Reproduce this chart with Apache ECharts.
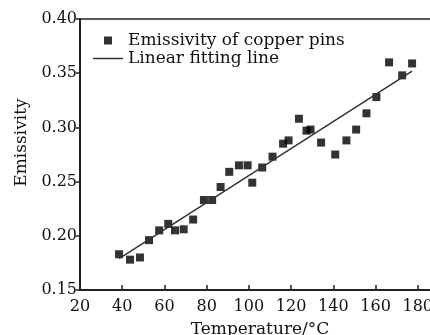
<!DOCTYPE html>
<html>
<head>
    <meta charset="UTF-8">
    <script src="https://cdn.jsdelivr.net/npm/echarts@6/dist/echarts.min.js"></script>
    <title>Emissivity</title>
    <style>
        html, body { margin: 0; padding: 0; background: #fff; }
        #box { width: 430px; height: 335px; }
    </style>
</head>
<body>
    <div id="box"></div>
    <script>
        // measured points: temperature (°C) and emissivity
        var temps = [38.5, 43.7, 48.4, 52.7, 57.5, 61.8, 65, 69.1, 73.6, 78.7, 82.6, 86.6, 90.7, 95.3, 99.4,
            101.6, 106.3, 111.2, 116.2, 118.8, 123.7, 127.3, 129.2, 134.2, 140.9, 146.2, 150.8, 155.7,
            160.4, 166.4, 172.6, 177.3];
        var emissivity = [0.183, 0.178, 0.180, 0.196, 0.205, 0.211, 0.205, 0.206, 0.215, 0.233, 0.233, 0.245,
            0.259, 0.265, 0.265, 0.249, 0.263, 0.273, 0.285, 0.288, 0.308, 0.297, 0.298, 0.286, 0.275,
            0.288, 0.298, 0.313, 0.328, 0.360, 0.348, 0.359];
        // fitted line end points
        var fitTemps = [38.5, 177.3];
        var fitValues = [0.179, 0.352];

        var pts = temps.map(function (t, i) { return [t, emissivity[i]]; });
        var fit = fitTemps.map(function (t, i) { return [t, fitValues[i]]; });

        var serif = 'DejaVu Serif';
        var mychart = echarts.init(document.getElementById('box'));

        var option = {
            animation: false,
            textStyle: { fontFamily: serif },
            grid: {
                left: 80, right: -30, top: 19, bottom: 45,
                outerBoundsMode: 'none',
                show: true, borderColor: '#222', borderWidth: 1.5
            },
            legend: {
                orient: 'vertical',
                left: 88,
                top: 27,
                itemWidth: 30,
                itemHeight: 8,
                itemGap: 1,
                selectedMode: false,
                textStyle: { fontFamily: serif, fontSize: 17, color: '#111' },
                data: [
                    { name: 'Emissivity of copper pins', icon: 'path://M0,0h10v10h-10z' },
                    { name: 'Linear fitting line', icon: 'path://M0,0h60v3h-60z' }
                ]
            },
            xAxis: {
                type: 'value',
                min: 20, max: 200, interval: 20,
                name: 'Temperature/°C',
                nameLocation: 'middle',
                nameGap: 31,
                nameTextStyle: { fontFamily: serif, fontSize: 17, color: '#111', padding: [0, 20, 0, 0] },
                axisLine: { lineStyle: { color: '#222', width: 2 } },
                axisTick: { inside: true, length: 5, lineStyle: { color: '#222', width: 1.5 } },
                axisLabel: { margin: 9, fontFamily: serif, fontSize: 16, color: '#111' },
                splitLine: { show: false }
            },
            yAxis: {
                type: 'value',
                min: 0.15, max: 0.40, interval: 0.05,
                name: 'Emissivity',
                nameLocation: 'middle',
                nameGap: 50,
                nameTextStyle: { fontFamily: serif, fontSize: 17, color: '#111', padding: [0, 0, 0, 24] },
                axisLine: { lineStyle: { color: '#222', width: 2 } },
                axisTick: { length: 4, lineStyle: { color: '#222', width: 1.5 } },
                axisLabel: {
                    margin: 3, fontFamily: serif, fontSize: 16, color: '#111',
                    formatter: function (v) { return v.toFixed(2); }
                },
                splitLine: { show: false }
            },
            series: [{
                name: 'Emissivity of copper pins',
                type: 'scatter',
                symbol: 'rect',
                symbolSize: 8,
                itemStyle: { color: '#000' },
                data: pts
            }, {
                name: 'Linear fitting line',
                type: 'line',
                symbol: 'none',
                lineStyle: { color: '#333', width: 1.5 },
                itemStyle: { color: '#333' },
                data: fit
            }]
        };

        mychart.setOption(option);
    </script>
</body>
</html>
